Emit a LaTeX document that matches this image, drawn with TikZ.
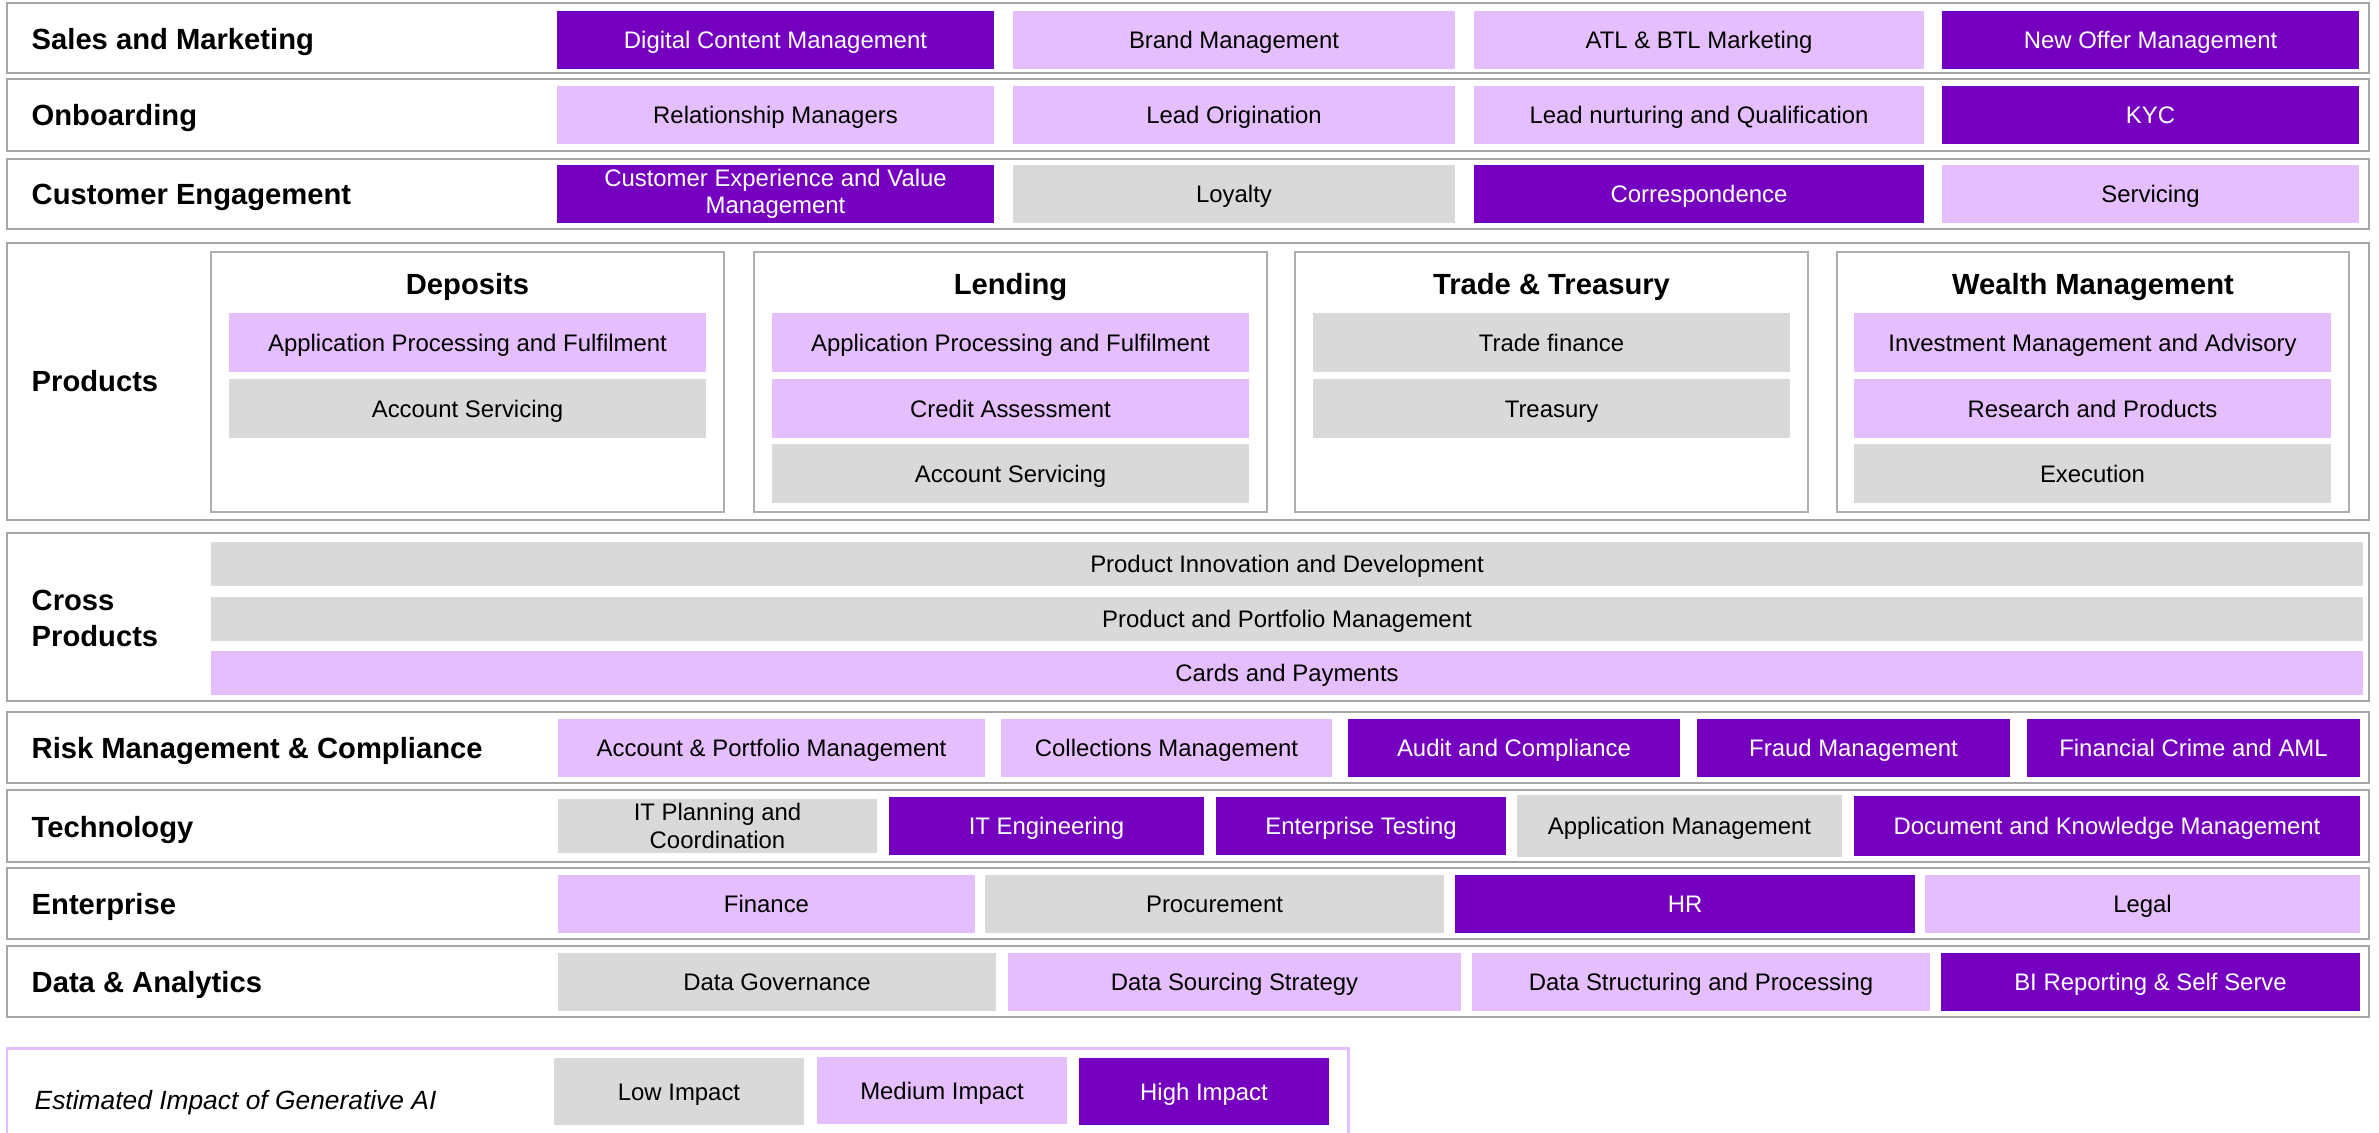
\documentclass[tikz,border=0pt]{standalone}
\usepackage{fontspec}
\setmainfont{Liberation Sans}
\usepackage{tikz}
\usepackage{xcolor}
\usetikzlibrary{positioning}

\definecolor{lowgray}{HTML}{D9D9D9}
\definecolor{medlilac}{HTML}{E5BFFD}
\definecolor{highpurple}{HTML}{7600C0}
\definecolor{framegray}{HTML}{A6A6A6}

\tikzset{
  cell/.style={inner sep=0pt, align=center, text height=6.2pt, text depth=1.3pt,
    font=\fontsize{6.8}{7.8}\selectfont},
  twoline/.style={text height={}, text depth={}},
  low/.style={cell, fill=lowgray, text=black},
  med/.style={cell, fill=medlilac, text=black},
  high/.style={cell, fill=highpurple, text=white},
  rowlabel/.style={anchor=base west, inner sep=0pt, align=left, font=\fontsize{8.3}{10}\selectfont\bfseries},
  group/.style={draw=framegray, line width=0.6pt},
  subgroup/.style={draw=framegray!90, line width=0.45pt}
}
% #1 style, #2 name, (#3,#4) top left, (#5,#6) bottom right, #7 text
\newcommand{\cellbox}[7]{%
  \node[#1, minimum width={(#5-#3)*0.01cm}, minimum height={(#6-#4)*0.01cm}]
    (#2) at ({(#3+#5)/2},{(#4+#6)/2}) {#7};}

\begin{document}
\begin{tikzpicture}[x=0.01cm, y=-0.01cm]
  \useasboundingbox (0,0) rectangle (2379,1132);

  % row frames
  \draw[group] (7,3) rectangle (2369,73);
  \draw[group] (7,79) rectangle (2369,151);
  \draw[group] (7,159) rectangle (2369,229);
  \draw[group] (7,243) rectangle (2369,520);
  \draw[group] (7,533) rectangle (2369,701);
  \draw[group] (7,712) rectangle (2369,783);
  \draw[group] (7,790) rectangle (2369,862);
  \draw[group] (7,868) rectangle (2369,939);
  \draw[group] (7,946) rectangle (2369,1017);
  \draw[medlilac, line width=0.85pt] (7,1140) -- (7,1048) -- (1348,1048) -- (1348,1140);

  % Sales and Marketing
  \node[rowlabel] (sales) at (31,49) {Sales and Marketing};
  \cellbox{high}{dcm}{557}{11}{994}{69}{Digital Content Management}
  \cellbox{med}{brand}{1013}{11}{1455}{69}{Brand Management}
  \cellbox{med}{atl}{1474}{11}{1924}{69}{ATL \& BTL Marketing}
  \cellbox{high}{offer}{1942}{11}{2359}{69}{New Offer Management}

  % Onboarding
  \node[rowlabel] (onb) at (31,125) {Onboarding};
  \cellbox{med}{relman}{557}{86}{994}{144}{Relationship Managers}
  \cellbox{med}{leadorig}{1013}{86}{1455}{144}{Lead Origination}
  \cellbox{med}{leadnurt}{1474}{86}{1924}{144}{Lead nurturing and Qualification}
  \cellbox{high}{kyc}{1942}{86}{2359}{144}{KYC}

  % Customer Engagement
  \node[rowlabel] (engage) at (31,204) {Customer Engagement};
  \cellbox{high, twoline}{cevm}{557}{165}{994}{223}{Customer Experience and Value\\Management}
  \cellbox{low}{loyalty}{1013}{165}{1455}{223}{Loyalty}
  \cellbox{high}{corresp}{1474}{165}{1924}{223}{Correspondence}
  \cellbox{med}{servicing}{1942}{165}{2359}{223}{Servicing}

  % Products
  \node[rowlabel] (products) at (31,391) {Products};
  \draw[subgroup] (211,252) rectangle (724,512);
  \draw[subgroup] (754,252) rectangle (1267,512);
  \draw[subgroup] (1295,252) rectangle (1808,512);
  \draw[subgroup] (1837,252) rectangle (2349,512);
  \node[rowlabel, anchor=base] (deposits) at (467.5,294) {Deposits};
  \node[rowlabel, anchor=base] (lending) at (1010.5,294) {Lending};
  \node[rowlabel, anchor=base] (trade) at (1551.5,294) {Trade \& Treasury};
  \node[rowlabel, anchor=base] (wealth) at (2093,294) {Wealth Management};
  \cellbox{med}{depapp}{229}{313}{706}{372}{Application Processing and Fulfilment}
  \cellbox{low}{depserv}{229}{379}{706}{438}{Account Servicing}
  \cellbox{med}{lendapp}{772}{313}{1249}{372}{Application Processing and Fulfilment}
  \cellbox{med}{credit}{772}{379}{1249}{438}{Credit Assessment}
  \cellbox{low}{lendserv}{772}{444}{1249}{503}{Account Servicing}
  \cellbox{low}{tradefin}{1313}{313}{1790}{372}{Trade finance}
  \cellbox{low}{treasury}{1313}{379}{1790}{438}{Treasury}
  \cellbox{med}{invest}{1854}{313}{2331}{372}{Investment Management and Advisory}
  \cellbox{med}{research}{1854}{379}{2331}{438}{Research and Products}
  \cellbox{low}{execution}{1854}{444}{2331}{503}{Execution}

  % Cross Products
  \node[rowlabel] (cross) at (31,646) {Cross\\Products};
  \cellbox{low}{innov}{211}{542}{2363}{586}{Product Innovation and Development}
  \cellbox{low}{portfolio}{211}{597}{2363}{641}{Product and Portfolio Management}
  \cellbox{med}{cards}{211}{651}{2363}{695}{Cards and Payments}

  % Risk Management & Compliance
  \node[rowlabel] (risk) at (31,758) {Risk Management \& Compliance};
  \cellbox{med}{accport}{558}{719}{985}{777}{Account \& Portfolio Management}
  \cellbox{med}{collect}{1001}{719}{1332}{777}{Collections Management}
  \cellbox{high}{audit}{1348}{719}{1680}{777}{Audit and Compliance}
  \cellbox{high}{fraud}{1697}{719}{2010}{777}{Fraud Management}
  \cellbox{high}{fincrime}{2027}{719}{2360}{777}{Financial Crime and AML}

  % Technology
  \node[rowlabel] (tech) at (31,837) {Technology};
  \cellbox{low, twoline}{itplan}{558}{799}{877}{853}{IT Planning and\\Coordination}
  \cellbox{high}{iteng}{889}{797}{1204}{855}{IT Engineering}
  \cellbox{high}{enttest}{1216}{797}{1506}{855}{Enterprise Testing}
  \cellbox{low}{appman}{1517}{795}{1842}{857}{Application Management}
  \cellbox{high}{docknow}{1854}{796}{2360}{856}{Document and Knowledge Management}

  % Enterprise
  \node[rowlabel] (enterprise) at (31,914) {Enterprise};
  \cellbox{med}{finance}{558}{875}{975}{933}{Finance}
  \cellbox{low}{procure}{985}{875}{1444}{933}{Procurement}
  \cellbox{high}{hr}{1455}{875}{1915}{933}{HR}
  \cellbox{med}{legal}{1925}{875}{2360}{933}{Legal}

  % Data & Analytics
  \node[rowlabel] (data) at (31,992) {Data \& Analytics};
  \cellbox{low}{datagov}{558}{953}{996}{1011}{Data Governance}
  \cellbox{med}{datasrc}{1008}{953}{1461}{1011}{Data Sourcing Strategy}
  \cellbox{med}{datastruct}{1472}{953}{1930}{1011}{Data Structuring and Processing}
  \cellbox{high}{bi}{1941}{953}{2360}{1011}{BI Reporting \& Self Serve}

  % legend
  \node[anchor=base west, inner sep=0pt, font=\fontsize{7.5}{9}\selectfont\itshape] (legend) at (34,1109) {Estimated Impact of Generative AI};
  \cellbox{low}{lowimp}{554}{1058}{804}{1125}{Low Impact}
  \cellbox{med}{medimp}{817}{1057}{1067}{1124}{Medium Impact}
  \cellbox{high}{highimp}{1079}{1058}{1329}{1125}{High Impact}
\end{tikzpicture}
\end{document}
